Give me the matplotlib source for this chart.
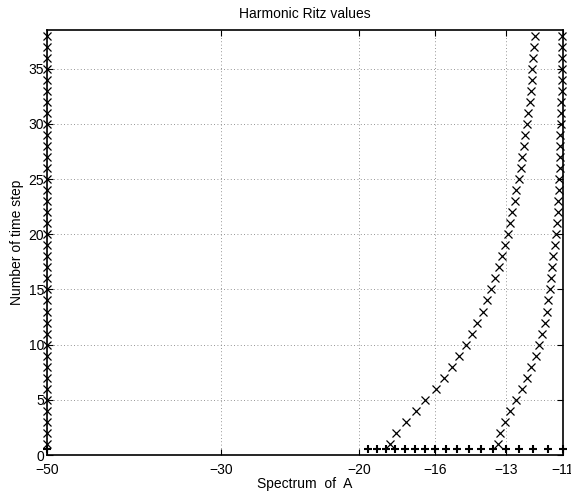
"""Harmonic Ritz values per time step, plotted against the spectrum of A."""

import matplotlib
matplotlib.use("Agg")
import matplotlib.pyplot as plt
import numpy as np

plt.rcParams["font.family"] = ["Liberation Sans", "DejaVu Sans"]

# time step index for each Ritz value row
time_steps = list(range(1, 39))

# outermost harmonic Ritz value (stays at the left end of the spectrum)
ritz_outer = [-50.0] * 38

# second harmonic Ritz value
ritz_mid = [-18.30, -17.95, -17.46, -16.94, -16.47, -15.98, -15.59, -15.22,
            -14.93, -14.63, -14.37, -14.15, -13.93, -13.76, -13.57, -13.44,
            -13.28, -13.16, -13.05, -12.94, -12.84, -12.76, -12.68, -12.61,
            -12.52, -12.44, -12.39, -12.34, -12.28, -12.24, -12.18, -12.13,
            -12.07, -12.05, -12.04, -12.00, -11.98, -11.93]

# third harmonic Ritz value
ritz_right = [-13.33, -13.22, -13.05, -12.84, -12.61, -12.41, -12.21, -12.07,
              -11.89, -11.80, -11.70, -11.58, -11.52, -11.49, -11.44, -11.38,
              -11.35, -11.33, -11.27, -11.22, -11.18, -11.17, -11.15, -11.14,
              -11.13, -11.11, -11.10, -11.10, -11.09, -11.07, -11.07, -11.05,
              -11.04, -11.04, -11.03, -11.03, -11.02, -11.02]

# eigenvalues of A (drawn as + just above the axis)
eigenvalues = [-50.0, -19.5, -19.0, -18.5, -18.0, -17.5, -17.0, -16.5, -16.0,
               -15.5, -15.0, -14.5, -14.0, -13.5, -13.0, -12.5, -12.0, -11.5,
               -11.0]
eig_level = 0.5

xticks = [-50, -30, -20, -16, -13, -11]
yticks = [0, 5, 10, 15, 20, 25, 30, 35]


def fwd(x):
    return -np.log(np.clip(-np.asarray(x, dtype=float), 1e-9, None))


def inv(y):
    return -np.exp(-np.asarray(y, dtype=float))


def main() -> None:
    fig = plt.figure(figsize=(5.71, 4.97), dpi=100)
    ax = fig.add_axes([0.0823, 0.0845, 0.9037, 0.8551])
    ax.set_xscale("function", functions=(fwd, inv))

    mk = dict(linestyle="none", marker="x", color="black", markersize=5.5,
              markeredgewidth=0.9, clip_on=False, zorder=3)
    ax.plot(ritz_outer, time_steps, **mk)
    ax.plot(ritz_mid, time_steps, **mk)
    ax.plot(ritz_right, time_steps, **mk)
    ax.plot(eigenvalues, [eig_level] * len(eigenvalues), linestyle="none",
            marker="+", color="black", markersize=6, markeredgewidth=1.5,
            clip_on=False, zorder=3)

    ax.set_xlim(-50, -11)
    ax.set_ylim(0, 38.5)
    ax.set_xticks(xticks)
    ax.set_xticklabels([f"\u2212{abs(t)}" for t in xticks])
    ax.set_yticks(yticks)
    ax.minorticks_off()

    ax.grid(True, color="0.45", linestyle=(0, (1, 3)), linewidth=0.6)
    ax.tick_params(direction="in", length=4, width=0.8, top=True, right=True,
                   labelsize=10, colors="black")
    ax.tick_params(axis="x", pad=6)
    ax.tick_params(axis="y", pad=2)
    for sp in ax.spines.values():
        sp.set_linewidth(1.2)

    ax.set_title("Harmonic Ritz values", fontsize=10, pad=9)
    ax.set_xlabel("Spectrum  of  A", fontsize=10, labelpad=0)
    ax.set_ylabel("Number of time step", fontsize=10, labelpad=3)

    fig.savefig("out.png", dpi=100)
    plt.close(fig)


if __name__ == "__main__":
    main()
